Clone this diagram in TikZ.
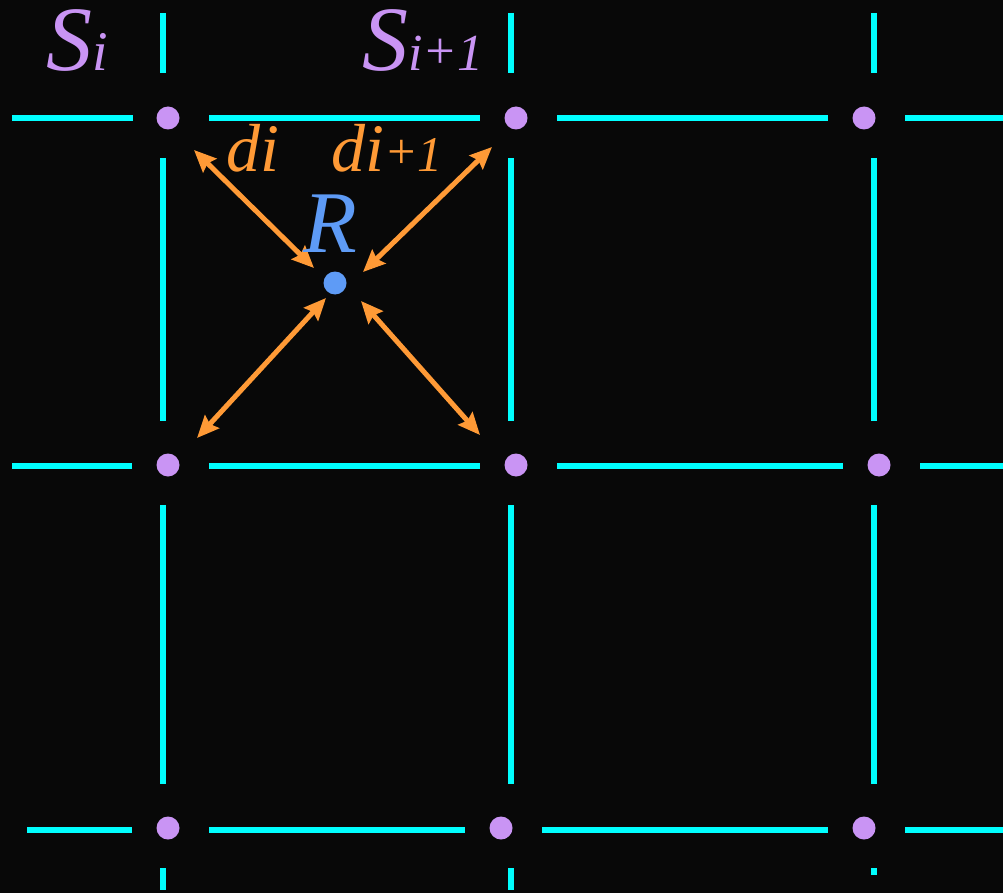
\documentclass[tikz,border=0pt]{standalone}
\usepackage{fontspec}
\newfontfamily\lserif{Liberation Serif}
\usetikzlibrary{arrows.meta}
\definecolor{bgc}{HTML}{080808}
\definecolor{gridc}{HTML}{00FFFF}
\definecolor{dotc}{HTML}{C994F4}
\definecolor{orc}{HTML}{FF9A36}
\definecolor{bluec}{HTML}{5E9BF6}
\tikzset{
  gridline/.style={draw=gridc, line width=6pt},
  sdot/.style={circle, fill=dotc, minimum size=23pt, inner sep=0pt},
  rdot/.style={circle, fill=bluec, minimum size=23pt, inner sep=0pt},
  darrow/.style={draw=orc, line width=5pt, {Stealth[length=22pt,width=19pt,inset=3pt]}-{Stealth[length=22pt,width=19pt,inset=3pt]}},
  lbl/.style={inner sep=0pt, anchor=base west, font=\lserif\itshape},
}
\begin{document}
\begin{tikzpicture}[x=1pt,y=-1pt]
\fill[bgc] (0,0) rectangle (1003,893);
\useasboundingbox (0,0) rectangle (1003,893);
% horizontal grid segments
\foreach \a/\b in {12/133,209/480,557/828,905/1003} \draw[gridline] (\a,118) -- (\b,118);
\foreach \a/\b in {12/132,209/480,557/843,920/1003} \draw[gridline] (\a,466) -- (\b,466);
\foreach \a/\b in {27/132,209/465,542/828,905/1003} \draw[gridline] (\a,830) -- (\b,830);
% vertical grid segments
\foreach \x in {163,511} {
  \foreach \a/\b in {13/73,158/421,505/784,868/890} \draw[gridline] (\x,\a) -- (\x,\b);
}
\foreach \a/\b in {13/73,158/421,505/784,868/875} \draw[gridline] (874,\a) -- (874,\b);
% dots
\node[sdot] (s11) at (168,118) {};
\node[sdot] (s12) at (516,118) {};
\node[sdot] (s13) at (864,118) {};
\node[sdot] (s21) at (168,465) {};
\node[sdot] (s22) at (516,465) {};
\node[sdot] (s23) at (879,465) {};
\node[sdot] (s31) at (168,828) {};
\node[sdot] (s32) at (501,828) {};
\node[sdot] (s33) at (864,828) {};
\node[rdot] (R) at (335,283) {};
% arrow ends
\coordinate (a1) at (194,150);
\coordinate (b1) at (314,268);
\coordinate (a2) at (492,147);
\coordinate (b2) at (363,272);
\coordinate (a3) at (197,438);
\coordinate (b3) at (326,298);
\coordinate (a4) at (480,435);
\coordinate (b4) at (361,301);
\draw[darrow] (a1) -- (b1);
\draw[darrow] (a2) -- (b2);
\draw[darrow] (a3) -- (b3);
\draw[darrow] (a4) -- (b4);
% labels
\node[lbl, text=dotc] (Si) at (46,71) {\fontsize{92}{92}\selectfont S\fontsize{56}{56}\selectfont i};
\node[lbl, text=dotc] (Si1) at (362,71) {\fontsize{92}{92}\selectfont S\fontsize{52}{52}\selectfont i\raisebox{2pt}{+}1};
\node[lbl, text=orc] (di) at (226,172) {\fontsize{68}{68}\selectfont di};
\node[lbl, text=orc] (di1) at (331,172) {\fontsize{68}{68}\selectfont di\fontsize{50}{50}\selectfont\raisebox{3pt}{+}1};
\node[lbl, text=bluec] (Rl) at (303,253) {\fontsize{88}{88}\selectfont R};
\end{tikzpicture}
\end{document}
